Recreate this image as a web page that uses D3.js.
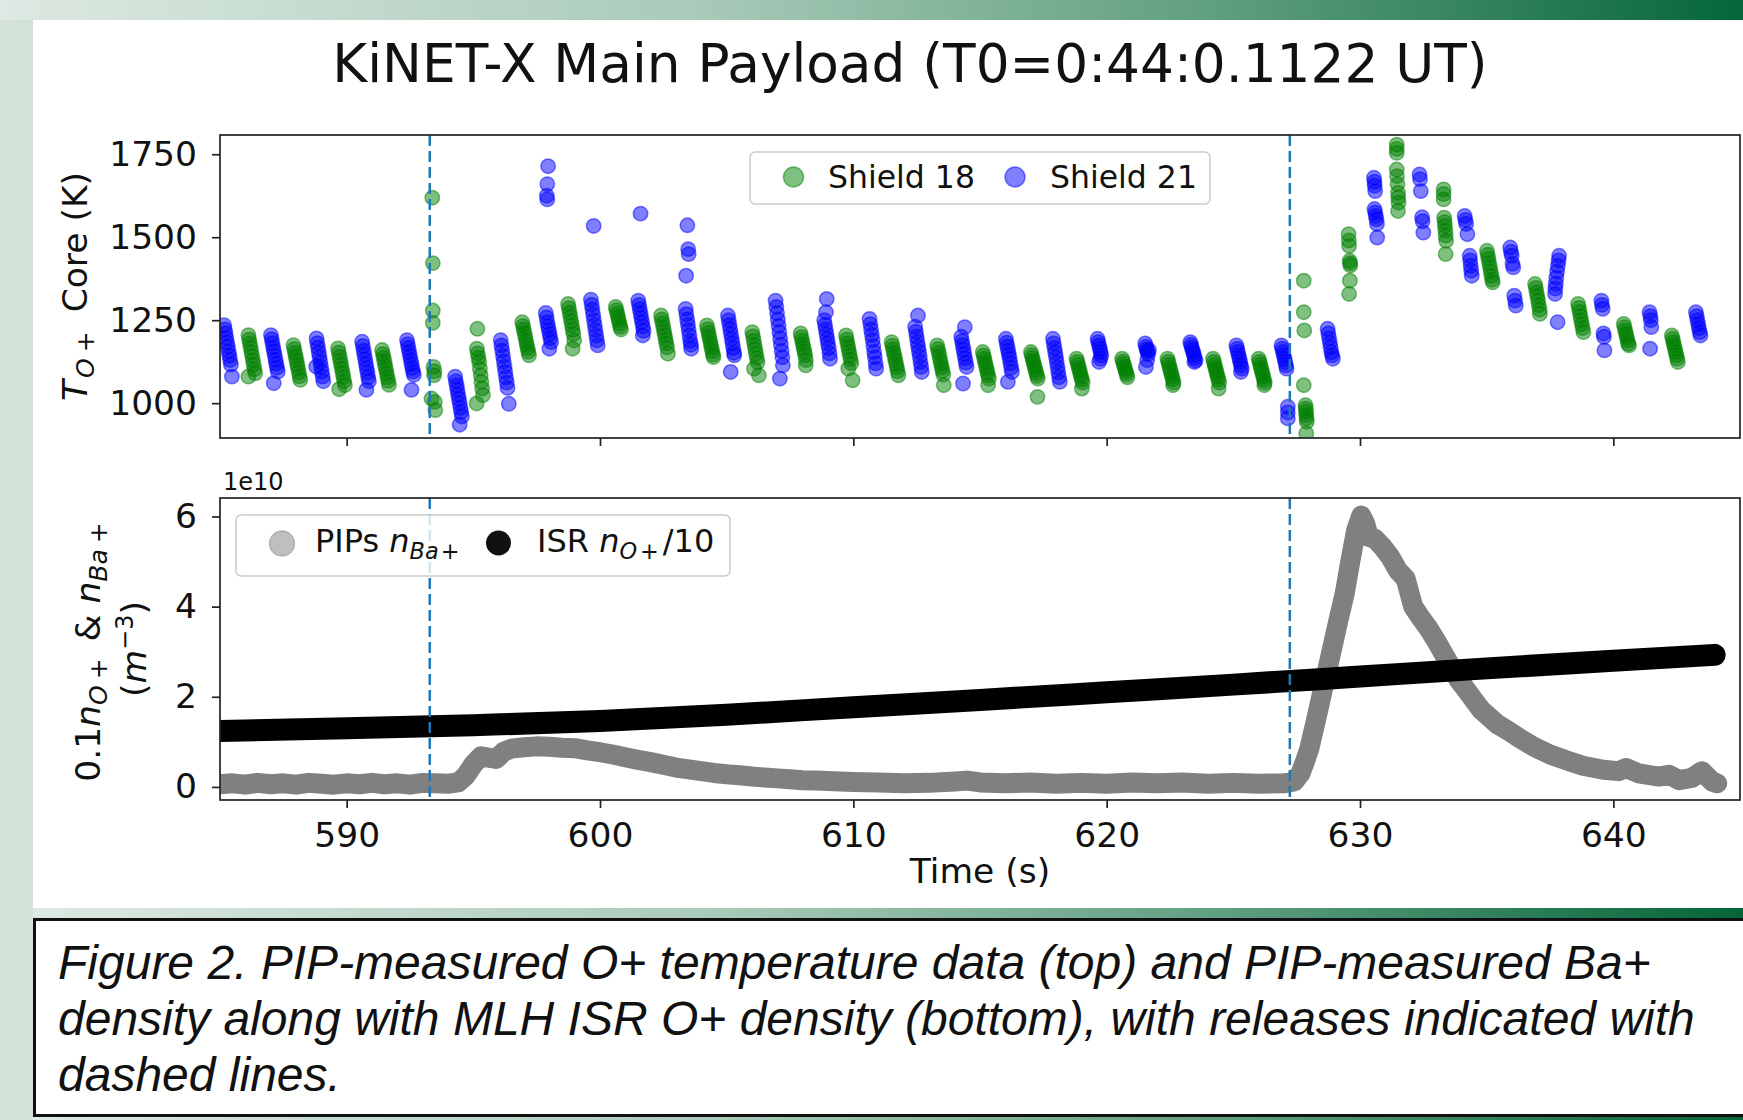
<!DOCTYPE html>
<html><head><meta charset="utf-8">
<script src="https://cdn.jsdelivr.net/npm/d3@7"></script>
<style>
html,body{margin:0;padding:0;background:#fff;}
svg{display:block;}
</style></head>
<body>
<svg id="chart" width="1743" height="1120"></svg>
<script>
// ---------------- DATA ----------------
const titleText = "KiNET-X Main Payload (T0=0:44:0.1122 UT)";
const captionLines = [
  "Figure 2. PIP-measured O+ temperature data (top) and PIP-measured Ba+",
  "density along with MLH ISR O+ density (bottom), with releases indicated with",
  "dashed lines."
];
const releaseTimes = [593.28, 627.23];
const timeTicks = [590, 600, 610, 620, 630, 640];
const tempTicks = [1000, 1250, 1500, 1750];
const densTicks = [0, 2, 4, 6];

// Shield 18 core O+ temperature [time s, T K]
const shield18 = [
[586.12,1205],[586.15,1192],[586.18,1180],[586.21,1167],[586.24,1154],[586.27,1141],[586.30,1128],[586.33,1115],[586.36,1102],[586.39,1090],[586.12,1080],
[587.90,1175],[587.93,1163],[587.96,1151],[587.99,1140],[588.02,1128],[588.05,1116],[588.08,1105],[588.11,1093],[588.14,1081],[588.17,1070],
[589.66,1165],[589.69,1153],[589.72,1140],[589.75,1128],[589.78,1116],[589.81,1103],[589.84,1091],[589.87,1079],[589.90,1066],[589.93,1054],[589.70,1042],
[591.40,1160],[591.43,1148],[591.46,1137],[591.49,1125],[591.52,1113],[591.55,1102],[591.58,1090],[591.61,1078],[591.64,1067],[591.67,1055],
[593.38,1619],[593.40,1422],[593.40,1279],[593.40,1242],[593.43,1109],[593.46,1096],[593.45,1084],[593.35,1014],[593.48,1004],[593.50,979],
[595.16,1224],[595.14,1164],[595.17,1150],[595.20,1137],[595.23,1124],[595.26,1104],[595.29,1084],[595.32,1064],[595.35,1044],[595.38,1024],[595.13,999],
[596.93,1244],[596.96,1233],[596.99,1222],[597.02,1211],[597.05,1200],[597.08,1188],[597.11,1177],[597.14,1166],[597.17,1155],[597.20,1144],
[598.74,1299],[598.77,1286],[598.80,1273],[598.83,1260],[598.86,1247],[598.89,1234],[598.92,1221],[598.95,1208],[598.98,1189],[598.92,1164],
[600.62,1290],[600.65,1280],[600.68,1270],[600.71,1260],[600.74,1250],[600.77,1240],[600.80,1230],[600.83,1222],
[602.41,1264],[602.44,1252],[602.47,1240],[602.50,1228],[602.53,1216],[602.56,1204],[602.59,1192],[602.62,1180],[602.65,1168],[602.68,1149],
[604.22,1234],[604.25,1223],[604.28,1212],[604.31,1201],[604.34,1190],[604.37,1179],[604.40,1168],[604.43,1157],[604.46,1146],[604.48,1139],
[606.01,1214],[606.04,1201],[606.07,1188],[606.10,1175],[606.13,1162],[606.16,1149],[606.19,1136],[606.22,1123],[606.08,1104],[606.27,1084],
[607.92,1210],[607.95,1199],[607.98,1188],[608.01,1177],[608.04,1166],[608.07,1155],[608.10,1144],[608.13,1130],[608.12,1114],
[609.71,1204],[609.74,1192],[609.77,1180],[609.80,1168],[609.83,1156],[609.86,1144],[609.89,1132],[609.92,1120],[609.80,1104],[609.97,1069],
[611.51,1184],[611.54,1173],[611.57,1162],[611.60,1151],[611.63,1140],[611.66,1129],[611.69,1118],[611.72,1107],[611.75,1096],[611.78,1084],
[613.31,1174],[613.34,1163],[613.37,1152],[613.40,1141],[613.43,1130],[613.46,1119],[613.49,1108],[613.52,1097],[613.55,1086],[613.57,1054],
[615.11,1154],[615.14,1144],[615.17,1134],[615.20,1124],[615.23,1114],[615.26,1104],[615.29,1094],[615.32,1084],[615.35,1074],[615.32,1054],
[617.01,1154],[617.04,1145],[617.07,1136],[617.10,1127],[617.13,1118],[617.16,1109],[617.19,1100],[617.22,1091],[617.25,1082],[617.28,1074],[617.27,1019],
[618.81,1134],[618.84,1125],[618.87,1116],[618.90,1107],[618.93,1098],[618.96,1089],[618.99,1080],[619.02,1071],[619.05,1062],[619.02,1044],
[620.61,1134],[620.64,1126],[620.67,1118],[620.70,1110],[620.73,1102],[620.76,1094],[620.79,1086],[620.82,1078],
[622.40,1134],[622.43,1125],[622.46,1116],[622.49,1107],[622.52,1098],[622.55,1089],[622.58,1080],[622.61,1071],[622.64,1062],[622.62,1054],
[624.20,1134],[624.23,1125],[624.26,1116],[624.29,1107],[624.32,1098],[624.35,1089],[624.38,1080],[624.41,1071],[624.44,1062],[624.42,1044],
[626.00,1134],[626.03,1125],[626.06,1116],[626.09,1107],[626.12,1098],[626.15,1089],[626.18,1080],[626.21,1071],[626.24,1062],[626.22,1054],
[627.78,1369],[627.78,1274],[627.80,1219],[627.78,1054],[627.85,994],[627.86,984],[627.87,974],[627.88,964],[627.89,954],[627.90,944],[627.88,909],
[629.55,1509],[629.56,1490],[629.57,1474],[629.59,1429],[629.61,1422],[629.62,1415],[629.60,1369],[629.57,1329],
[631.45,1779],[631.45,1766],[631.45,1754],[631.45,1704],[631.46,1684],[631.48,1660],[631.50,1634],[631.51,1620],[631.52,1604],[631.50,1579],
[633.30,1644],[633.30,1630],[633.30,1614],[633.32,1559],[633.34,1546],[633.35,1534],[633.37,1520],[633.38,1505],[633.40,1489],[633.38,1449],
[635.01,1459],[635.04,1447],[635.07,1435],[635.10,1422],[635.13,1410],[635.16,1397],[635.19,1384],[635.22,1372],[635.24,1364],
[636.91,1359],[636.94,1347],[636.97,1334],[637.00,1322],[637.03,1309],[637.06,1295],[637.09,1282],[637.10,1269],
[638.61,1299],[638.64,1287],[638.67,1275],[638.70,1262],[638.73,1250],[638.76,1238],[638.79,1226],[638.82,1214],
[640.41,1239],[640.44,1229],[640.47,1219],[640.50,1209],[640.53,1199],[640.56,1189],[640.59,1179],[640.62,1174],
[642.31,1204],[642.34,1194],[642.37,1184],[642.40,1174],[642.43,1164],[642.46,1154],[642.49,1144],[642.52,1134],[642.55,1124]
];

// Shield 21 core O+ temperature [time s, T K]
const shield21 = [
[585.16,1235],[585.19,1222],[585.22,1210],[585.25,1196],[585.28,1183],[585.31,1170],[585.34,1156],[585.37,1143],[585.40,1130],[585.43,1116],[585.47,1080],
[587.01,1205],[587.04,1193],[587.07,1181],[587.10,1168],[587.13,1156],[587.16,1144],[587.19,1131],[587.22,1119],[587.25,1107],[587.28,1095],[587.12,1060],
[588.81,1195],[588.84,1181],[588.87,1167],[588.90,1152],[588.93,1138],[588.96,1124],[588.99,1109],[589.02,1095],[589.05,1080],[589.08,1066],[588.80,1110],
[590.61,1185],[590.64,1172],[590.67,1158],[590.70,1145],[590.73,1132],[590.76,1118],[590.79,1105],[590.82,1092],[590.85,1078],[590.88,1066],[590.78,1040],
[592.38,1190],[592.41,1178],[592.44,1166],[592.47,1154],[592.50,1142],[592.53,1130],[592.56,1118],[592.59,1106],[592.62,1095],[592.65,1085],[592.56,1040],
[594.28,1080],[594.31,1066],[594.34,1053],[594.37,1040],[594.40,1026],[594.43,1013],[594.46,1000],[594.49,986],[594.52,973],[594.55,960],[594.46,935],
[596.08,1190],[596.11,1174],[596.14,1158],[596.17,1142],[596.20,1126],[596.23,1110],[596.26,1094],[596.29,1078],[596.32,1062],[596.35,1046],[596.40,998],
[597.95,1714],[597.92,1660],[597.90,1625],[597.92,1614],
[597.86,1272],[597.89,1258],[597.92,1244],[597.95,1232],[597.98,1220],[598.01,1208],[598.04,1196],[598.07,1184],[598.00,1164],
[599.75,1534],
[599.64,1312],[599.67,1297],[599.70,1282],[599.73,1266],[599.76,1250],[599.79,1235],[599.82,1220],[599.85,1204],[599.88,1189],[599.91,1174],
[601.60,1571],
[601.51,1309],[601.54,1296],[601.57,1283],[601.60,1270],[601.63,1257],[601.66,1244],[601.69,1231],[601.72,1218],[601.69,1204],
[603.45,1536],[603.48,1464],[603.50,1449],[603.40,1384],
[603.38,1284],[603.41,1268],[603.44,1252],[603.47,1236],[603.50,1220],[603.53,1204],[603.56,1188],[603.59,1176],[603.60,1164],
[605.05,1264],[605.08,1250],[605.11,1236],[605.14,1222],[605.17,1208],[605.20,1194],[605.23,1180],[605.26,1166],[605.29,1152],[605.30,1144],[605.16,1094],
[606.93,1309],[606.96,1290],[606.99,1271],[607.02,1252],[607.05,1233],[607.08,1214],[607.11,1195],[607.14,1176],[607.17,1157],[607.20,1138],[607.22,1114],[607.10,1074],
[608.95,1314],[608.92,1274],[608.85,1250],[608.88,1236],[608.91,1222],[608.94,1208],[608.97,1194],[609.00,1180],[609.03,1166],[609.06,1150],[609.08,1134],
[610.64,1254],[610.67,1238],[610.70,1222],[610.73,1206],[610.76,1190],[610.79,1172],[610.82,1154],[610.85,1138],[610.88,1120],[610.90,1104],
[612.55,1264],[612.44,1230],[612.47,1215],[612.50,1200],[612.53,1185],[612.56,1170],[612.59,1155],[612.62,1140],[612.65,1124],[612.68,1109],[612.70,1094],
[614.40,1229],[614.26,1200],[614.29,1187],[614.32,1174],[614.35,1161],[614.38,1148],[614.41,1135],[614.44,1122],[614.47,1109],[614.33,1059],
[616.02,1194],[616.05,1182],[616.08,1170],[616.11,1158],[616.14,1146],[616.17,1134],[616.20,1120],[616.23,1107],[616.26,1094],[616.10,1064],
[617.88,1194],[617.91,1180],[617.94,1166],[617.97,1152],[618.00,1138],[618.03,1123],[618.06,1108],[618.09,1093],[618.12,1078],[618.15,1064],
[619.64,1194],[619.67,1184],[619.70,1174],[619.73,1164],[619.76,1154],[619.79,1144],[619.75,1134],[619.70,1124],
[621.52,1180],[621.55,1170],[621.58,1162],[621.61,1155],[621.64,1148],[621.67,1160],[621.60,1130],[621.55,1109],
[623.30,1184],[623.33,1176],[623.36,1168],[623.39,1160],[623.42,1152],[623.45,1144],[623.48,1136],[623.51,1128],[623.46,1124],
[625.12,1174],[625.15,1164],[625.18,1154],[625.21,1144],[625.24,1134],[625.27,1124],[625.30,1114],[625.33,1104],[625.30,1094],
[626.90,1174],[626.93,1164],[626.96,1154],[626.99,1144],[627.02,1134],[627.05,1124],[627.08,1114],[627.10,1104],[627.15,989],[627.15,972],[627.15,954],
[628.72,1224],[628.75,1210],[628.78,1196],[628.81,1182],[628.84,1168],[628.87,1154],[628.90,1144],[628.93,1134],
[630.55,1679],[630.57,1667],[630.58,1655],[630.60,1639],[630.57,1585],[630.60,1575],[630.62,1564],[630.65,1554],[630.67,1540],[630.68,1499],
[632.35,1689],[632.37,1675],[632.40,1639],[632.45,1560],[632.47,1548],[632.50,1514],
[634.13,1564],[634.16,1552],[634.19,1540],[634.24,1509],[634.33,1444],[634.35,1430],[634.37,1414],[634.39,1399],[634.41,1384],
[635.93,1469],[635.96,1456],[635.99,1444],[636.02,1420],[636.05,1409],[636.09,1324],[636.12,1309],[636.15,1294],
[637.86,1444],[637.84,1430],[637.81,1414],[637.78,1396],[637.75,1378],[637.73,1360],[637.71,1345],[637.70,1329],[637.80,1244],
[639.53,1309],[639.55,1296],[639.58,1284],[639.61,1210],[639.63,1200],[639.65,1159],
[641.43,1274],[641.46,1262],[641.48,1250],[641.50,1229],[641.45,1164],
[643.26,1274],[643.29,1262],[643.32,1250],[643.35,1238],[643.38,1226],[643.41,1214],[643.44,1204]
];

// PIPs Ba+ density [time s, density in 1e10 m^-3]
const pipsBa = [
[584.8,0.07],[585.0,0.06],[585.5,0.08],[586.0,0.05],[586.5,0.09],[587.0,0.06],[587.5,0.08],[588.0,0.05],[588.5,0.09],
[589.0,0.07],[589.5,0.05],[590.0,0.08],[590.5,0.06],[591.0,0.09],[591.5,0.06],[592.0,0.08],[592.5,0.05],[593.0,0.09],
[593.5,0.08],[594.0,0.07],[594.4,0.10],[594.7,0.25],[595.0,0.50],[595.3,0.68],[595.6,0.65],[595.9,0.62],[596.2,0.78],
[596.5,0.85],[597.0,0.88],[597.5,0.90],[598.0,0.89],[598.5,0.87],[599.0,0.86],[599.5,0.81],[600.0,0.77],[600.5,0.72],
[601.0,0.66],[601.5,0.60],[602.0,0.55],[602.5,0.49],[603.0,0.43],[603.5,0.39],[604.0,0.35],[604.5,0.31],[605.0,0.28],
[605.5,0.26],[606.0,0.23],[606.5,0.21],[607.0,0.19],[607.5,0.17],[608.0,0.15],[608.5,0.14],[609.0,0.13],[609.5,0.12],
[610.0,0.11],[611.0,0.10],[612.0,0.08],[613.0,0.09],[614.0,0.12],[614.5,0.14],[615.0,0.10],[616.0,0.08],[617.0,0.10],
[618.0,0.07],[619.0,0.09],[620.0,0.07],[621.0,0.10],[622.0,0.08],[623.0,0.10],[624.0,0.07],[625.0,0.09],[626.0,0.07],
[627.0,0.08],[627.4,0.12],[627.65,0.30],[627.85,0.60],[628.0,0.85],[628.25,1.45],[628.55,2.20],[628.85,2.95],
[629.15,3.70],[629.4,4.30],[629.6,4.95],[629.85,5.70],[630.05,6.02],[630.2,5.85],[630.35,5.55],[630.6,5.50],
[630.9,5.32],[631.2,5.10],[631.5,4.80],[631.8,4.62],[632.1,4.00],[632.4,3.75],[632.7,3.52],[633.0,3.25],[633.3,2.95],
[633.6,2.66],[633.9,2.37],[634.2,2.15],[634.5,1.92],[634.8,1.70],[635.1,1.55],[635.4,1.40],[635.9,1.23],[636.3,1.08],
[636.9,0.88],[637.5,0.72],[638.1,0.60],[638.8,0.47],[639.6,0.38],[640.2,0.35],[640.5,0.42],[641.0,0.30],[641.8,0.23],
[642.2,0.27],[642.6,0.15],[643.1,0.20],[643.5,0.35],[643.9,0.12],[644.1,0.08]
];

// ISR O+ density / 10 [time s, density in 1e10 m^-3]
const isrO = [
[584.8,1.24],[590,1.30],[595,1.37],[600,1.46],[605,1.60],[610,1.77],[615,1.93],[620,2.10],[625,2.27],
[630,2.45],[635,2.63],[640,2.80],[644,2.93]
];

// ---------------- DRAWING ----------------
const svg = d3.select("#chart");
const FONT = "'DejaVu Sans', Verdana, sans-serif";
const W = 1743, H = 1120;

const defs = svg.append("defs");
const grad = defs.append("linearGradient").attr("id","bar").attr("x1","0").attr("x2","1").attr("y1","0").attr("y2","0");
[["0%","#dde9e2"],["40%","#a9cbb9"],["70%","#5f9e80"],["100%","#05663a"]].forEach(s =>
  grad.append("stop").attr("offset", s[0]).attr("stop-color", s[1]));

svg.append("rect").attr("width",W).attr("height",H).attr("fill","#d3e2d9");
svg.append("rect").attr("x",0).attr("y",0).attr("width",W).attr("height",20).attr("fill","url(#bar)");
svg.append("rect").attr("x",33).attr("y",20).attr("width",W-33).attr("height",888).attr("fill","#fff");
svg.append("rect").attr("x",33).attr("y",908).attr("width",W-33).attr("height",10).attr("fill","url(#bar)");
svg.append("rect").attr("x",33).attr("y",1117).attr("width",W-33).attr("height",3).attr("fill","url(#bar)");
svg.append("rect").attr("x",34.5).attr("y",919.5).attr("width",W-33).attr("height",196)
  .attr("fill","#fff").attr("stroke","#111").attr("stroke-width",3);

// caption
svg.append("g").selectAll("text").data(captionLines).join("text")
  .attr("x",58).attr("y",(d,i)=>979 + i*56)
  .attr("font-family","'Liberation Sans', Arial, sans-serif").attr("font-style","italic")
  .attr("font-size",48).attr("fill","#111").text(d=>d);

// title
svg.append("text").attr("x",910).attr("y",82).attr("text-anchor","middle")
  .attr("font-family",FONT).attr("font-size",53.3).attr("fill","#111").text(titleText);

const L = 220, R = 1740;
const x = d3.scaleLinear().domain([585, 645]).range([L, R]);
const topY0 = 135, topY1 = 438, botY0 = 498, botY1 = 800;
const yT = d3.scaleLinear().domain([895, 1808]).range([topY1, topY0]);
const yD = d3.scaleLinear().domain([-0.29, 6.41]).range([botY1, botY0]);

defs.append("clipPath").attr("id","clipTop").append("rect")
  .attr("x",L).attr("y",topY0).attr("width",R-L).attr("height",topY1-topY0);
defs.append("clipPath").attr("id","clipBot").append("rect")
  .attr("x",L).attr("y",botY0).attr("width",R-L).attr("height",botY1-botY0);

function styleAxis(g){
  g.select(".domain").remove();
  g.selectAll(".tick line").attr("stroke","#222").attr("stroke-width",1.7);
  g.selectAll(".tick text").attr("font-family",FONT).attr("font-size",34.5).attr("fill","#111");
}
const DASH = "11,5";

// ---- top panel ----
const topG = svg.append("g");
const topData = topG.append("g").attr("clip-path","url(#clipTop)");
topData.append("g").selectAll("circle").data(shield18).join("circle")
  .attr("cx",d=>x(d[0])).attr("cy",d=>yT(d[1])).attr("r",7.2)
  .attr("fill","green").attr("fill-opacity",0.5)
  .attr("stroke","green").attr("stroke-opacity",0.5).attr("stroke-width",1.5);
topData.append("g").selectAll("circle").data(shield21).join("circle")
  .attr("cx",d=>x(d[0])).attr("cy",d=>yT(d[1])).attr("r",7.2)
  .attr("fill","blue").attr("fill-opacity",0.5)
  .attr("stroke","blue").attr("stroke-opacity",0.5).attr("stroke-width",1.5);
topData.append("g").selectAll("line").data(releaseTimes).join("line")
  .attr("x1",d=>x(d)).attr("x2",d=>x(d)).attr("y1",topY0).attr("y2",topY1)
  .attr("stroke","#1f77b4").attr("stroke-width",2.5).attr("stroke-dasharray",DASH);

topG.append("g").attr("transform",`translate(${L},0)`)
  .call(d3.axisLeft(yT).tickValues(tempTicks).tickSize(8).tickPadding(15).tickFormat(d3.format("d"))).call(styleAxis);
topG.append("g").attr("transform",`translate(0,${topY1})`)
  .call(d3.axisBottom(x).tickValues(timeTicks).tickSize(8).tickFormat("")).call(styleAxis);
topG.append("rect").attr("x",L).attr("y",topY0).attr("width",R-L).attr("height",topY1-topY0)
  .attr("fill","none").attr("stroke","#222").attr("stroke-width",1.7);

// top y label
const ylT = topG.append("text").attr("transform",`translate(87,${(topY0+topY1)/2}) rotate(-90)`)
  .attr("text-anchor","middle").attr("font-family",FONT).attr("font-size",34.5).attr("fill","#111");
ylT.append("tspan").attr("font-style","italic").text("T");
ylT.append("tspan").attr("font-style","italic").attr("font-size",25).attr("dx",2).attr("dy",7).text("O");
ylT.append("tspan").attr("font-size",25).attr("dx",6).text("+");
ylT.append("tspan").attr("dx",8).attr("dy",-7).text(" Core (K)");

// top legend
const lg1 = topG.append("g");
lg1.append("rect").attr("x",750).attr("y",152).attr("width",460).attr("height",52).attr("rx",5)
  .attr("fill","#fff").attr("fill-opacity",0.8).attr("stroke","#cccccc").attr("stroke-width",1.5);
const legTop = [{label:"Shield 18", color:"green", cx:793.5, tx:828},{label:"Shield 21", color:"blue", cx:1015, tx:1050}];
lg1.selectAll("circle").data(legTop).join("circle").attr("cx",d=>d.cx).attr("cy",177).attr("r",10)
  .attr("fill",d=>d.color).attr("fill-opacity",0.5).attr("stroke",d=>d.color).attr("stroke-opacity",0.5).attr("stroke-width",1.5);
lg1.selectAll("text").data(legTop).join("text").attr("x",d=>d.tx).attr("y",187.5)
  .attr("font-family",FONT).attr("font-size",31.5).attr("fill","#111").text(d=>d.label);

// ---- bottom panel ----
const botG = svg.append("g");
const botData = botG.append("g").attr("clip-path","url(#clipBot)");
const line = d3.line().x(d=>x(d[0])).y(d=>yD(d[1]));
botData.append("path").datum(pipsBa).attr("d",line).attr("fill","none")
  .attr("stroke","#808080").attr("stroke-width",20).attr("stroke-linecap","round").attr("stroke-linejoin","round");
botData.append("path").datum(isrO).attr("d",d3.line().curve(d3.curveMonotoneX).x(d=>x(d[0])).y(d=>yD(d[1])))
  .attr("fill","none")
  .attr("stroke","#000").attr("stroke-width",22).attr("stroke-linecap","round").attr("stroke-linejoin","round");
botData.append("g").selectAll("line").data(releaseTimes).join("line")
  .attr("x1",d=>x(d)).attr("x2",d=>x(d)).attr("y1",botY0).attr("y2",botY1)
  .attr("stroke","#1f77b4").attr("stroke-width",2.5).attr("stroke-dasharray",DASH);

botG.append("g").attr("transform",`translate(${L},0)`)
  .call(d3.axisLeft(yD).tickValues(densTicks).tickSize(8).tickPadding(15).tickFormat(d3.format("d"))).call(styleAxis);
botG.append("g").attr("transform",`translate(0,${botY1})`)
  .call(d3.axisBottom(x).tickValues(timeTicks).tickSize(8).tickPadding(14.5).tickFormat(d3.format("d"))).call(styleAxis);
botG.append("rect").attr("x",L).attr("y",botY0).attr("width",R-L).attr("height",botY1-botY0)
  .attr("fill","none").attr("stroke","#222").attr("stroke-width",1.7);

botG.append("text").attr("x",223).attr("y",490).attr("font-family",FONT).attr("font-size",24)
  .attr("fill","#111").text("1e10");
botG.append("text").attr("x",(L+R)/2).attr("y",883).attr("text-anchor","middle")
  .attr("font-family",FONT).attr("font-size",34.5).attr("fill","#111").text("Time (s)");

// bottom y label (two lines)
const ylB1 = botG.append("text").attr("transform",`translate(100,652) rotate(-90)`)
  .attr("text-anchor","middle").attr("font-family",FONT).attr("font-size",34.5).attr("fill","#111");
ylB1.append("tspan").text("0.1");
ylB1.append("tspan").attr("font-style","italic").text("n");
ylB1.append("tspan").attr("font-style","italic").attr("font-size",25).attr("dy",7).text("O");
ylB1.append("tspan").attr("font-size",25).attr("dx",6).text("+");
ylB1.append("tspan").attr("dx",6).attr("dy",-7).text(" & ");
ylB1.append("tspan").attr("font-style","italic").text("n");
ylB1.append("tspan").attr("font-style","italic").attr("font-size",25).attr("dy",7).text("Ba");
ylB1.append("tspan").attr("font-size",25).attr("dx",6).text("+");
const ylB2 = botG.append("text").attr("transform",`translate(146,649) rotate(-90)`)
  .attr("text-anchor","middle").attr("font-family",FONT).attr("font-size",34.5).attr("fill","#111");
ylB2.append("tspan").text("(");
ylB2.append("tspan").attr("font-style","italic").text("m");
ylB2.append("tspan").attr("font-size",24).attr("dy",-13).text("\u22123");
ylB2.append("tspan").attr("dy",13).text(")");

// bottom legend
const lg2 = botG.append("g");
lg2.append("rect").attr("x",236).attr("y",515).attr("width",494).attr("height",61).attr("rx",5)
  .attr("fill","#fff").attr("fill-opacity",0.8).attr("stroke","#cccccc").attr("stroke-width",1.5);
lg2.append("circle").attr("cx",282).attr("cy",543.5).attr("r",12.5)
  .attr("fill","#808080").attr("fill-opacity",0.5).attr("stroke","#808080").attr("stroke-opacity",0.5).attr("stroke-width",1.3);
lg2.append("circle").attr("cx",498.5).attr("cy",543).attr("r",12.5).attr("fill","#111");
const t1 = lg2.append("text").attr("x",315).attr("y",552).attr("font-family",FONT).attr("font-size",32).attr("fill","#111");
t1.append("tspan").text("PIPs ");
t1.append("tspan").attr("font-style","italic").text("n");
t1.append("tspan").attr("font-style","italic").attr("font-size",22.4).attr("dy",6.7).text("Ba");
t1.append("tspan").attr("font-size",22.4).attr("dx",2).text("+");
const t2 = lg2.append("text").attr("x",537).attr("y",552).attr("font-family",FONT).attr("font-size",32).attr("fill","#111");
t2.append("tspan").text("ISR ");
t2.append("tspan").attr("font-style","italic").text("n");
t2.append("tspan").attr("font-style","italic").attr("font-size",22.4).attr("dy",6.7).text("O");
t2.append("tspan").attr("font-size",22.4).attr("dx",3).text("+");
t2.append("tspan").attr("dx",4).attr("dy",-6.7).text("/10");
</script>
</body></html>
